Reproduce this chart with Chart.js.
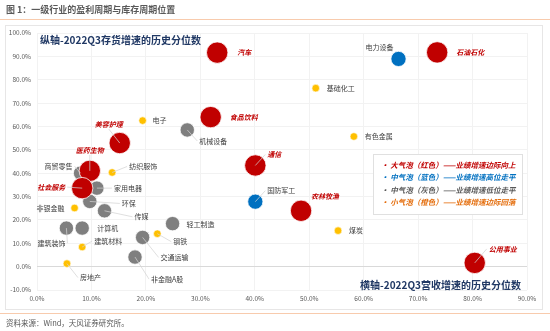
<!DOCTYPE html>
<html>
<head>
<meta charset="utf-8">
<script src="https://cdn.jsdelivr.net/npm/chart.js@4.4.1/dist/chart.umd.min.js"></script>
<style>
  html, body { margin: 0; padding: 0; background: #fff; }
  canvas { display: block; }
</style>
</head>
<body>
<canvas id="chart" width="550" height="331"></canvas>
<script>
// x: 2022Q3营收增速的历史分位数 (%), y: 2022Q3存货增速的历史分位数 (%)
const redNames = ['汽车', '石油石化', '食品饮料', '美容护理', '通信', '医药生物', '社会服务', '农林牧渔', '公用事业'];
const redX = [33.1, 73.5, 31.9, 15.2, 40.1, 9.7, 8.3, 48.5, 80.4];
const redY = [91.6, 91.7, 64.0, 52.9, 43.3, 41.0, 33.6, 23.9, 1.6];

const blueNames = ['电力设备', '国防军工'];
const blueX = [66.4, 40.1];
const blueY = [88.9, 27.8];

const grayNames = ['机械设备', '商贸零售', '家用电器', '环保', '传媒', '建筑装饰', '计算机', '轻工制造', '交通运输', '非金融A股'];
const grayX = [27.6, 8.0, 11.0, 9.7, 12.4, 5.4, 8.3, 24.9, 19.4, 18.0];
const grayY = [58.5, 40.0, 33.6, 27.9, 23.9, 16.5, 16.5, 18.4, 12.5, 4.1];

const orangeNames = ['电子', '基础化工', '有色金属', '纺织服饰', '非银金融', '建筑材料', '房地产', '钢铁', '煤炭'];
const orangeX = [19.4, 51.2, 58.2, 13.8, 6.9, 8.3, 5.5, 22.1, 55.3];
const orangeY = [62.5, 76.4, 55.7, 40.3, 25.1, 8.4, 1.3, 14.1, 15.4];

const xTickLabels = ['0.0%', '10.0%', '20.0%', '30.0%', '40.0%', '50.0%', '60.0%', '70.0%', '80.0%', '90.0%'];
const yTickLabels = ['-10.0%', '0.0%', '10.0%', '20.0%', '30.0%', '40.0%', '50.0%', '60.0%', '70.0%', '80.0%', '90.0%', '100.0%'];

const chartTitle = '图 1：一级行业的盈利周期与库存周期位置';
const sourceText = '资料来源：Wind，天风证券研究所。';
const yAxisTitle = '纵轴-2022Q3存货增速的历史分位数';
const xAxisTitle = '横轴-2022Q3营收增速的历史分位数';
const legendLines = [
  '· 大气泡（红色）——业绩增速边际向上',
  '· 中气泡（蓝色）——业绩增速高位走平',
  '· 中气泡（灰色）——业绩增速低位走平',
  '· 小气泡（橙色）——业绩增速边际回落'
];
const legendColors = ['#c00000', '#0070c0', '#595959', '#e46c0a'];

// label placement: [dx, dy, align, leader line]
const labelLayout = {
  '汽车': [20, 0, 'left', false],
  '石油石化': [19, 0, 'left', false],
  '食品饮料': [19, 0, 'left', false],
  '美容护理': [-11, -19, 'center', true],
  '通信': [12, -11, 'left', true],
  '医药生物': [0, -21, 'center', true],
  '社会服务': [-17, -1, 'right', true],
  '农林牧渔': [10, -14, 'left', false],
  '公用事业': [14, -14, 'left', true],
  '电力设备': [-19, -12, 'center', false],
  '国防军工': [12, -11, 'left', true],
  '机械设备': [12, 11, 'left', true],
  '商贸零售': [-8, -7, 'right', true],
  '家用电器': [17, 0, 'left', true],
  '环保': [32, 2, 'left', true],
  '传媒': [30, 6, 'left', true],
  '建筑装饰': [-1, 15, 'right', true],
  '计算机': [15, 0, 'left', false],
  '轻工制造': [14, 1, 'left', false],
  '交通运输': [18, 20, 'left', true],
  '非金融A股': [16, 22, 'left', true],
  '电子': [10, 0, 'left', false],
  '基础化工': [11, 0, 'left', false],
  '有色金属': [11, 0, 'left', false],
  '纺织服饰': [17, -6, 'left', true],
  '非银金融': [-10, 0, 'right', false],
  '建筑材料': [12, -6, 'left', true],
  '房地产': [13, 14, 'left', true],
  '钢铁': [16, 8, 'left', true],
  '煤炭': [11, 0, 'left', false]
};

const FONT = '"Noto Sans CJK SC", "Noto Sans", sans-serif';

function toPoints(xs, ys) {
  return xs.map((x, i) => ({ x: x, y: ys[i] }));
}

const decor = {
  id: 'decor',
  beforeDraw(chart) {
    const ctx = chart.ctx;
    ctx.save();
    ctx.fillStyle = '#fff';
    ctx.fillRect(0, 0, chart.width, chart.height);
    ctx.font = 'bold 9px ' + FONT;
    ctx.fillStyle = '#595959';
    ctx.textBaseline = 'middle';
    ctx.textAlign = 'left';
    ctx.fillText(chartTitle, 6, 10);
    ctx.strokeStyle = '#f8cbad';
    ctx.lineWidth = 1;
    ctx.beginPath();
    ctx.moveTo(0, 19.5); ctx.lineTo(550, 19.5);
    ctx.moveTo(0, 313.5); ctx.lineTo(550, 313.5);
    ctx.stroke();
    ctx.strokeStyle = '#e7e6e6';
    ctx.strokeRect(5.5, 25.5, 537, 284);
    ctx.font = '7.5px ' + FONT;
    ctx.fillStyle = '#595959';
    ctx.fillText(sourceText, 6, 323);
    ctx.restore();
  },
  afterDatasetsDraw(chart) {
    const ctx = chart.ctx;
    const area = chart.chartArea;
    ctx.save();
    ctx.textBaseline = 'middle';
    chart.data.datasets.forEach((ds, di) => {
      const meta = chart.getDatasetMeta(di);
      meta.data.forEach((pt, i) => {
        const name = ds.names[i];
        const lay = labelLayout[name] || [8, 0, 'left', false];
        const tx = pt.x + lay[0];
        const ty = pt.y + lay[1];
        if (lay[3]) {
          let ex = tx, ey = ty;
          if (lay[2] === 'left') ex = tx - 2;
          else if (lay[2] === 'right') ex = tx + 2;
          else ey = ty + (lay[1] < 0 ? 5 : -5);
          ctx.strokeStyle = 'rgba(210,210,210,0.9)';
          ctx.lineWidth = 0.8;
          ctx.beginPath();
          ctx.moveTo(pt.x, pt.y);
          ctx.lineTo(ex, ey);
          ctx.stroke();
        }
        ctx.font = (ds.labelStyle === 'red' ? 'italic bold 7px ' : '7px ') + FONT;
        ctx.fillStyle = ds.labelStyle === 'red' ? '#c00000' : '#404040';
        ctx.textAlign = lay[2];
        ctx.fillText(name, tx, ty);
      });
    });

    // axis titles inside the plot
    ctx.font = 'bold 10px ' + FONT;
    ctx.fillStyle = '#203864';
    ctx.textAlign = 'left';
    ctx.fillText(yAxisTitle, area.left + 3, area.top + 7);
    ctx.textAlign = 'right';
    ctx.fillText(xAxisTitle, area.right - 6, area.bottom - 5);

    // legend box
    const bx = area.right - 154, by = area.top + 121;
    ctx.fillStyle = '#fff';
    ctx.fillRect(bx, by, 149, 60);
    ctx.strokeStyle = '#e0e0e0';
    ctx.lineWidth = 1;
    ctx.strokeRect(bx + 0.5, by + 0.5, 149, 60);
    ctx.textAlign = 'left';
    ctx.font = 'italic bold 7.5px ' + FONT;
    legendLines.forEach((t, i) => {
      ctx.fillStyle = legendColors[i];
      ctx.fillText(t, bx + 8, by + 11 + i * 12.4);
    });
    ctx.restore();
  }
};

new Chart(document.getElementById('chart'), {
  type: 'scatter',
  data: {
    datasets: [
      { names: redNames, labelStyle: 'red', data: toPoints(redX, redY), backgroundColor: '#c00000', borderColor: '#fff', borderWidth: 0.8, pointRadius: 10.7 },
      { names: blueNames, labelStyle: 'plain', data: toPoints(blueX, blueY), backgroundColor: '#0070c0', borderColor: '#fff', borderWidth: 0.8, pointRadius: 7.6 },
      { names: grayNames, labelStyle: 'plain', data: toPoints(grayX, grayY), backgroundColor: '#7f7f7f', borderColor: '#fff', borderWidth: 0.8, pointRadius: 7.2 },
      { names: orangeNames, labelStyle: 'plain', data: toPoints(orangeX, orangeY), backgroundColor: '#ffc000', borderColor: '#fff', borderWidth: 0.6, pointRadius: 3.8 }
    ]
  },
  options: {
    responsive: false,
    animation: false,
    devicePixelRatio: 1,
    layout: { padding: { left: 0, top: 33, right: 23, bottom: 21 } },
    plugins: { legend: { display: false }, tooltip: { enabled: false } },
    scales: {
      x: {
        min: 0, max: 90,
        afterFit: s => { s.height = 20; },
        border: { display: false },
        grid: { color: '#f2f2f2', drawTicks: false },
        ticks: {
          stepSize: 10, padding: 5,
          color: '#595959', font: { size: 6.5, family: FONT },
          callback: (v, i) => xTickLabels[i]
        }
      },
      y: {
        min: -10, max: 100,
        afterFit: s => { s.width = 37; },
        border: { display: false },
        grid: { color: c => c.tick && c.tick.value === 0 ? '#d9d9d9' : '#f2f2f2', drawTicks: false },
        ticks: {
          stepSize: 10, padding: 6,
          color: '#595959', font: { size: 6.5, family: FONT },
          callback: (v, i) => yTickLabels[i]
        }
      }
    }
  },
  plugins: [decor]
});
</script>
</body>
</html>
